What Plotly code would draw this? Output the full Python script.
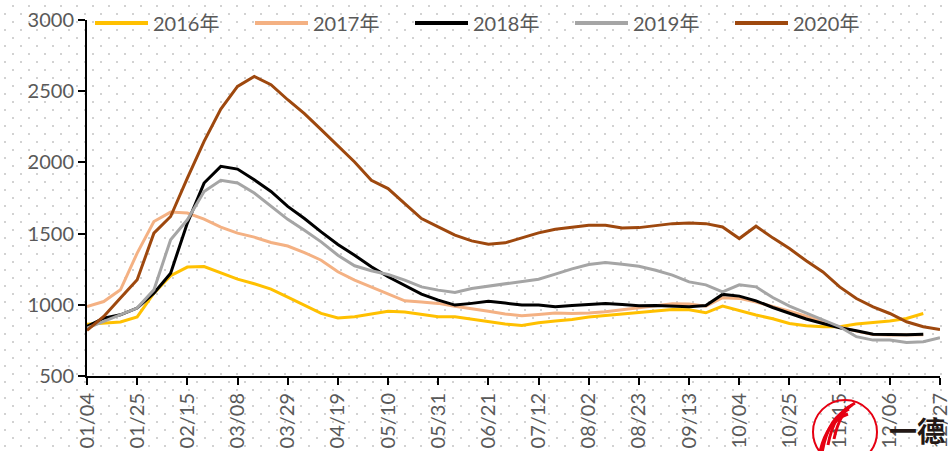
import base64
import plotly.graph_objects as go

weeks = ["01/04", "01/11", "01/18", "01/25", "02/01", "02/08", "02/15", "02/22", "03/01", "03/08",
         "03/15", "03/22", "03/29", "04/05", "04/12", "04/19", "04/26", "05/03", "05/10", "05/17",
         "05/24", "05/31", "06/07", "06/14", "06/21", "06/28", "07/05", "07/12", "07/19", "07/26",
         "08/02", "08/09", "08/16", "08/23", "08/30", "09/06", "09/13", "09/20", "09/27", "10/04",
         "10/11", "10/18", "10/25", "11/01", "11/08", "11/15", "11/22", "11/29", "12/06", "12/13",
         "12/20", "12/27"]
tick_labels = ["01/04", "01/25", "02/15", "03/08", "03/29", "04/19", "05/10", "05/31", "06/21",
               "07/12", "08/02", "08/23", "09/13", "10/04", "10/25", "11/15", "12/06", "12/27"]

y2016 = [864, 871, 880, 915, 1082, 1204, 1265, 1269, 1222, 1180, 1148, 1110, 1054, 998, 940, 907,
         916, 935, 954, 949, 932, 916, 916, 900, 886, 865, 855, 874, 886, 897, 914, 925, 935, 949,
         960, 967, 965, 944, 991, 958, 928, 902, 869, 853, 846, 846, 865, 876, 886, 904, 939, None]
y2017 = [988, 1023, 1105, 1363, 1585, 1651, 1644, 1602, 1546, 1503, 1475, 1438, 1413, 1367, 1313,
         1232, 1173, 1126, 1075, 1028, 1019, 1010, 990, 975, 955, 935, 923, 932, 942, 939, 942, 951,
         963, 979, 993, 1007, 1005, 990, 1050, 1045, 1020, 990, 955, 920, 880, 845, 815, 792, 788,
         788, 790, None]
y2018 = [848, 906, 930, 977, 1082, 1222, 1574, 1855, 1972, 1953, 1878, 1796, 1691, 1606, 1512, 1423,
         1348, 1267, 1197, 1134, 1075, 1033, 998, 1010, 1024, 1012, 998, 998, 986, 995, 1002, 1009,
         1002, 993, 995, 993, 986, 995, 1073, 1061, 1028, 981, 939, 900, 869, 839, 818, 794, 792,
         790, 794, None]
y2019 = [836, 883, 930, 977, 1105, 1457, 1597, 1796, 1874, 1855, 1785, 1691, 1600, 1524, 1442, 1348,
         1274, 1239, 1213, 1173, 1126, 1103, 1087, 1115, 1131, 1143, 1159, 1180, 1215, 1252, 1283,
         1297, 1285, 1271, 1243, 1208, 1161, 1140, 1091, 1140, 1126, 1051, 991, 944, 897, 846, 776,
         752, 752, 736, 741, 769]
y2020 = [820, 918, 1047, 1176, 1503, 1620, 1890, 2148, 2375, 2534, 2604, 2546, 2440, 2342, 2230,
         2120, 2003, 1874, 1816, 1711, 1606, 1547, 1489, 1449, 1426, 1435, 1470, 1505, 1531, 1547,
         1559, 1559, 1540, 1542, 1556, 1570, 1575, 1570, 1547, 1465, 1552, 1470, 1395, 1309, 1231,
         1126, 1044, 986, 939, 881, 846, 827]

series_names = ["2016年", "2017年", "2018年", "2019年", "2020年"]
series_values = [y2016, y2017, y2018, y2019, y2020]
series_colors = ["#FFC000", "#F4B183", "#000000", "#A5A5A5", "#9E480E"]

W, H = 948, 451
L, R, T, B = 87, 940, 20, 376
FONT = "Lato, 'Noto Sans CJK SC', sans-serif"
TXT = "#595959"


def px(x):
    return (x - L) / (R - L)


def py(y):
    return (B - y) / (B - T)


fig = go.Figure()
for name, vals, col in zip(series_names, series_values, series_colors):
    fig.add_trace(go.Scatter(x=weeks, y=vals, name=name, mode="lines",
                             line=dict(color=col, width=3), showlegend=False))

# dotted background pattern
svg = ("<svg xmlns='http://www.w3.org/2000/svg' width='%d' height='%d'>"
       "<defs><pattern id='p' width='16' height='16' patternUnits='userSpaceOnUse'>"
       "<rect x='12' y='5' width='2' height='2' fill='#d2d2d2'/>"
       "<rect x='4' y='13' width='2' height='2' fill='#d2d2d2'/>"
       "</pattern></defs><rect width='%d' height='%d' fill='url(#p)'/></svg>") % (W, H, W, H)
src = "data:image/svg+xml;base64," + base64.b64encode(svg.encode()).decode()

shapes = []
annotations = []
# manual legend
for k, (name, col) in enumerate(zip(series_names, series_colors)):
    x0 = 95 + 160 * k
    shapes.append(dict(type="line", xref="paper", yref="paper",
                       x0=px(x0), x1=px(x0 + 53), y0=py(23), y1=py(23),
                       line=dict(color=col, width=4)))
    annotations.append(dict(text=name, xref="paper", yref="paper", x=px(x0 + 56), y=py(23),
                            xanchor="left", yanchor="middle", showarrow=False,
                            font=dict(family=FONT, size=20, color=TXT)))

# logo
shapes.append(dict(type="circle", xref="paper", yref="paper",
                   x0=px(813), x1=px(877), y0=py(400), y1=py(464),
                   line=dict(color="#E60012", width=2)))
for i, (a, b) in enumerate([(818, 412), (822, 407), (828, 403), (834, 401)]):
    shapes.append(dict(type="path", xref="paper", yref="paper",
                       path="M %f %f Q %f %f %f %f" % (px(a), py(b + 50 - i * 4),
                                                        px(a + 6), py(b + 10),
                                                        px(a + 30 - i * 3), py(b + 2)),
                       line=dict(color="#E60012", width=3)))
annotations.append(dict(text="<b>一德</b>", xref="paper", yref="paper", x=px(887), y=py(430),
                        xanchor="left", yanchor="middle", showarrow=False,
                        font=dict(family="'Noto Sans CJK SC', sans-serif", size=28, color="#231815")))

fig.update_layout(
    width=W, height=H,
    margin=dict(l=L, r=W - R, t=T, b=H - B, autoexpand=False),
    paper_bgcolor="white", plot_bgcolor="rgba(0,0,0,0)",
    font=dict(family=FONT, size=20, color=TXT),
    images=[dict(source=src, xref="paper", yref="paper", x=px(0), y=py(0),
                 sizex=W / (R - L), sizey=H / (B - T), xanchor="left", yanchor="top",
                 sizing="stretch", layer="below")],
    shapes=shapes, annotations=annotations,
    xaxis=dict(type="category", range=[0, len(weeks) - 1], tickmode="array",
               tickvals=tick_labels, ticktext=tick_labels, tickangle=-90, automargin=False,
               showgrid=False, zeroline=False, showline=True, linecolor="black", linewidth=2,
               ticks="outside", ticklen=7, tickwidth=2, tickcolor="black",
               tickfont=dict(family=FONT, size=20, color=TXT)),
    yaxis=dict(range=[500, 3000], dtick=500, showgrid=False, zeroline=False, automargin=False,
               showline=True, linecolor="black", linewidth=2,
               ticks="outside", ticklen=7, tickwidth=2, tickcolor="black",
               tickfont=dict(family=FONT, size=20, color=TXT)),
)

fig.write_html("out.html", config={"displayModeBar": False},
               post_script="document.body.style.margin='0';document.body.style.overflow='hidden';")
